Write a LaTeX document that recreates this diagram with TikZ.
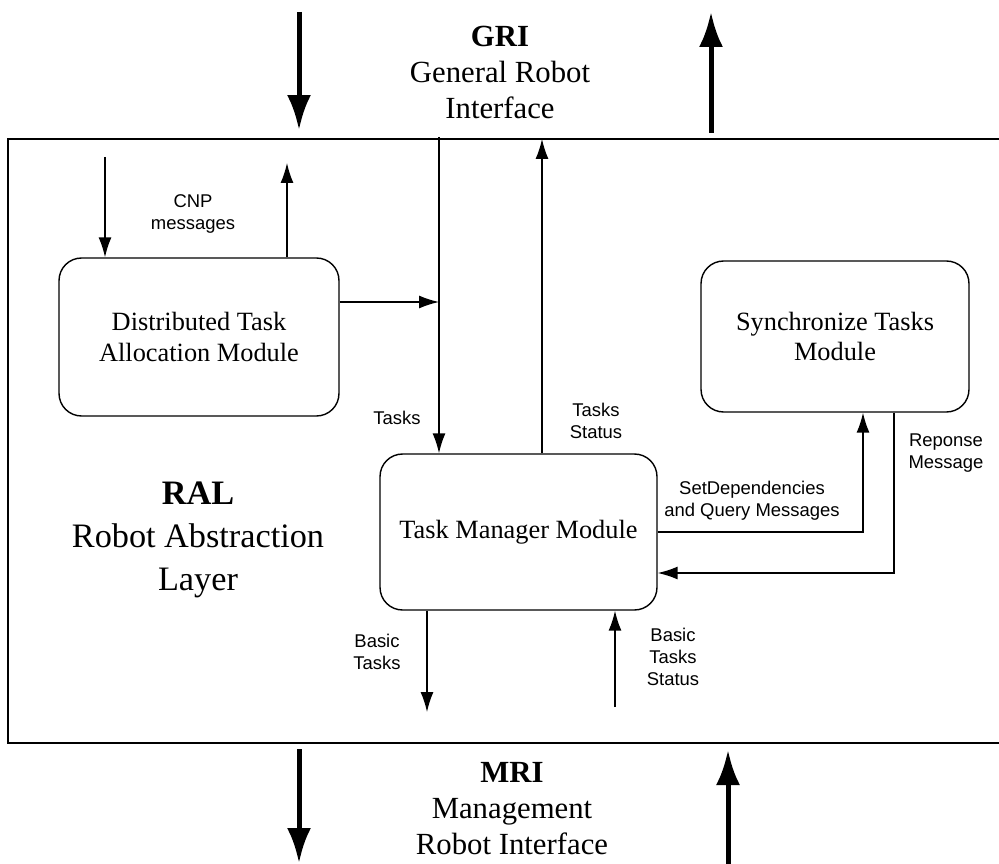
\documentclass[tikz,border=0pt]{standalone}
\usepackage{fontspec}
\setmainfont{Liberation Serif}
\setsansfont{Liberation Sans}
\usepackage{tikz}
\usetikzlibrary{arrows.meta,positioning}

\begin{document}
\begin{tikzpicture}[x=0.02cm,y=-0.02cm,
	module/.style={draw,line width=0.8pt,rounded corners=0.45cm,align=center,
		font=\fontsize{15}{17.5}\selectfont,inner sep=0pt},
	lbl/.style={align=center,font=\sffamily\fontsize{10.5}{12.5}\selectfont},
	title/.style={align=center,font=\fontsize{17.5}{20.5}\selectfont},
	flow/.style={line width=0.8pt,-{Latex[length=0.4cm,width=0.26cm]}},
	bigflow/.style={line width=0.1cm,-{Latex[length=0.7cm,width=0.48cm]}}
	]
			\useasboundingbox (0,0) rectangle (999,864);
			% robot abstraction layer
			\draw[line width=1pt] (999,139) -- (8,139) -- (8,743) -- (999,743);
			\node[module,minimum width=5.6cm,minimum height=3.16cm] (dta) at (199,337) {Distributed Task\\Allocation Module};
			\node[module,minimum width=5.54cm,minimum height=3.12cm] (tmm) at (518.5,532) {\raisebox{-4pt}{Task Manager Module}};
			\node[module,minimum width=5.36cm,minimum height=3.02cm] (stm) at (835,336.5) {Synchronize Tasks\\Module};
			\node[align=center,font=\fontsize{19.5}{24.4}\selectfont] (ral) at (198,540) {\textbf{RAL}\\Robot Abstraction\\Layer};

			% interfaces
			\node[title] (gri) at (500,72) {\textbf{GRI}\\General Robot\\Interface};
			\node[title] (mri) at (512,809) {\textbf{MRI}\\Management\\Robot Interface};
			\coordinate (griin) at (299,12);
			\coordinate (griout) at (711,12);
			\coordinate (mriout) at (299,863);
			\coordinate (mriin) at (728,864);
			\draw[bigflow] (griin) -- (299,130);
			\draw[bigflow] (711,133) -- (griout);
			\draw[bigflow] (299,749) -- (mriout);
			\draw[bigflow] (mriin) -- (728,750);

			% CNP
			\coordinate (cnpin) at (105,157);
			\coordinate (cnpout) at (287,163);
			\draw[flow] (cnpin) -- (cnpin |- dta.north);
			\draw[flow] (cnpout |- dta.north) -- (cnpout);
			\node[lbl] (cnp) at (193,214) {CNP\\messages};

			% tasks
			\coordinate (tasksin) at (439,137);
			\coordinate (statout) at (542,139);
			\draw[flow] (tasksin) -- (tasksin |- tmm.north);
			\draw[flow] (dta.east |- 0,302) -- (tasksin |- 0,302);
			\draw[flow] (statout |- tmm.north) -- (statout);
			\node[lbl] (tasks) at (397,418) {Tasks};
			\node[lbl] (tstat) at (596,421) {Tasks\\Status};

			% synchronization
			\draw[flow] (tmm.east |- 0,532) -| (863,0 |- stm.south);
			\draw[flow] (894,0 |- stm.south) |- (tmm.east |- 0,573);
			\node[lbl] (setdep) at (752,501) {SetDependencies\\and Query Messages};
			\node[lbl] (repmsg) at (946,453) {Reponse\\Message};

			% basic tasks
			\coordinate (btout) at (427,712);
			\coordinate (btin) at (615,707);
			\draw[flow] (btout |- tmm.south) -- (btout);
			\draw[flow] (btin) -- (btin |- tmm.south);
			\node[lbl] (basictasks) at (377,652) {Basic\\Tasks};
			\node[lbl] (btstat) at (673,657) {Basic\\Tasks\\Status};
		\end{tikzpicture}
\end{document}
